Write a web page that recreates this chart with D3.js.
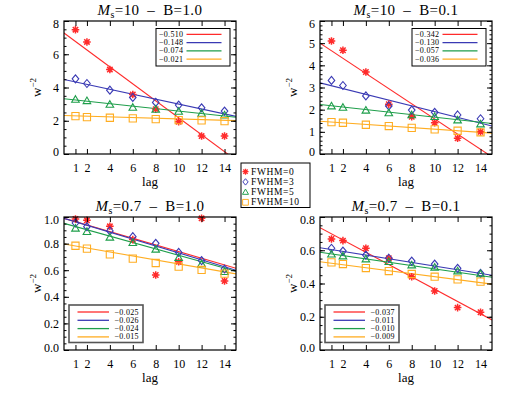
<!DOCTYPE html>
<html>
<head>
<meta charset="utf-8">
<script src="https://cdn.jsdelivr.net/npm/d3@7"></script>
<style>
body { margin: 0; background: #fff; }
text { font-family: 'Liberation Serif', 'Times New Roman', serif; fill: #000; }
</style>
</head>
<body>
<script>
// #region DATA
const lags = [1, 2, 4, 6, 8, 10, 12, 14];
const xTicks = [1, 2, 4, 6, 8, 10, 12, 14];
const seriesNames = ["FWHM=0", "FWHM=3", "FWHM=5", "FWHM=10"];
const seriesColors = ["#ff2b2b", "#3a3ab4", "#1e9e4a", "#ffad22"];
const panelMach = ["10", "10", "0.7", "0.7"];
const panelB = ["1.0", "0.1", "1.0", "0.1"];

// w^-2 at each lag, one row per FWHM
const valsM10B10 = [
    [7.48, 6.74, 5.08, 3.58, 2.70, 1.94, 1.08, 1.08],
    [4.52, 4.24, 3.84, 3.40, 3.10, 2.94, 2.78, 2.58],
    [3.28, 3.20, 2.98, 2.80, 2.68, 2.56, 2.44, 2.34],
    [2.28, 2.22, 2.18, 2.14, 2.10, 2.04, 2.02, 1.98]
];
const valsM10B01 = [
    [5.10, 4.68, 3.70, 2.25, 1.68, 1.41, 0.71, 1.00],
    [3.32, 3.09, 2.62, 2.17, 1.98, 1.88, 1.76, 1.59],
    [2.16, 2.10, 1.97, 1.85, 1.76, 1.68, 1.53, 1.35],
    [1.44, 1.41, 1.32, 1.26, 1.18, 1.11, 1.05, 0.98]
];
const valsM07B10 = [
    [0.985, 0.975, 0.93, 0.83, 0.564, 0.664, 0.99, 0.519],
    [0.955, 0.927, 0.895, 0.852, 0.802, 0.734, 0.672, 0.609],
    [0.915, 0.890, 0.847, 0.807, 0.757, 0.694, 0.647, 0.589],
    [0.784, 0.762, 0.719, 0.687, 0.654, 0.627, 0.602, 0.574]
];
const valsM07B01 = [
    [0.668, 0.658, 0.612, 0.552, 0.441, 0.355, 0.255, 0.227],
    [0.612, 0.595, 0.571, 0.552, 0.535, 0.517, 0.491, 0.461],
    [0.576, 0.565, 0.547, 0.531, 0.511, 0.497, 0.475, 0.457],
    [0.527, 0.517, 0.493, 0.475, 0.457, 0.441, 0.425, 0.411]
];

// linear fits: slope (legend) and intercept at lag 0
const slopesM10B10 = [-0.510, -0.148, -0.074, -0.021];
const slopesM10B01 = [-0.342, -0.130, -0.057, -0.036];
const slopesM07B10 = [-0.025, -0.026, -0.024, -0.015];
const slopesM07B01 = [-0.037, -0.011, -0.010, -0.009];
const interceptsM10B10 = [7.28, 4.48, 3.32, 2.32];
const interceptsM10B01 = [5.00, 3.21, 2.23, 1.48];
const interceptsM07B10 = [0.99, 0.99, 0.952, 0.797];
const interceptsM07B01 = [0.736, 0.615, 0.588, 0.531];

const yDomains = [[0, 8], [0, 6], [0, 1], [0, 0.8]];
const yMajorTicks = [
    [0, 2, 4, 6, 8],
    [0, 1, 2, 3, 4, 5, 6],
    [0, 0.2, 0.4, 0.6, 0.8, 1.0],
    [0, 0.2, 0.4, 0.6, 0.8]
];
const yMinorSteps = [0.5, 0.2, 0.05, 0.05];
// #endregion

// #region SETUP
const panels = [
    {vals: valsM10B10, slopes: slopesM10B10, icpt: interceptsM10B10, left: 64, top: 21, fmt: d3.format("d"), leg: "top"},
    {vals: valsM10B01, slopes: slopesM10B01, icpt: interceptsM10B01, left: 320, top: 21, fmt: d3.format("d"), leg: "top"},
    {vals: valsM07B10, slopes: slopesM07B10, icpt: interceptsM07B10, left: 64, top: 217, fmt: d3.format(".1f"), leg: "bottom"},
    {vals: valsM07B01, slopes: slopesM07B01, icpt: interceptsM07B01, left: 320, top: 217, fmt: d3.format(".1f"), leg: "bottom"}
];
const pw = 172, ph = 133;

var svg = d3.select("body")
    .append("svg")
    .attr("width", 512)
    .attr("height", 393);

// marker shapes, one per FWHM
var symbolPath = function(i) {
    if (i == 0) {
        var r = 3.8, q = 2.7;
        return `M${-r},0L${r},0M0,${-r}L0,${r}M${-q},${-q}L${q},${q}M${-q},${q}L${q},${-q}`;
    } else if (i == 1) {
        return "M0,-4L3.3,0L0,4L-3.3,0Z";
    } else if (i == 2) {
        return "M0,-3.8L3.8,2.8L-3.8,2.8Z";
    }
    return "M-3.6,-3.6h7.2v7.2h-7.2Z";
};
// #endregion

panels.forEach(function(p, k) {
    var g = svg.append("g").attr("transform", `translate(${p.left},${p.top})`);

    var x = d3.scaleLinear().domain([0, 15]).range([0, pw]);
    var y = d3.scaleLinear().domain(yDomains[k]).range([ph, 0]);
    var minor = d3.range(yDomains[k][0], yDomains[k][1] + 1e-9, yMinorSteps[k]);

    g.append("clipPath").attr("id", "clip" + k)
        .append("rect").attr("width", pw).attr("height", ph);

    // fit lines
    var plot = g.append("g").attr("clip-path", `url(#clip${k})`);
    plot.selectAll("line.fit")
        .data(d3.range(4))
        .enter()
        .append("line")
            .attr("x1", x(0))
            .attr("x2", x(15))
            .attr("y1", i => y(p.icpt[i]))
            .attr("y2", i => y(p.icpt[i] + p.slopes[i] * 15))
            .attr("stroke", i => seriesColors[i])
            .attr("stroke-width", 1.1);

    // points
    d3.range(4).forEach(function(i) {
        g.append("g")
            .selectAll("path")
            .data(p.vals[i])
            .enter()
            .append("path")
                .attr("transform", (v, j) => `translate(${x(lags[j])},${y(v)})`)
                .attr("d", symbolPath(i))
                .attr("fill", "none")
                .attr("stroke", seriesColors[i])
                .attr("stroke-width", i == 0 ? 1.5 : 1.1);
    });

    // axes
    g.append("g").attr("transform", `translate(0,${ph})`)
        .call(d3.axisBottom(x).tickValues(xTicks).tickSize(-5).tickPadding(9).tickFormat(d3.format("d")));
    g.append("g").call(d3.axisTop(x).tickValues(xTicks).tickSize(-5).tickFormat(""));
    var axL = g.append("g")
        .call(d3.axisLeft(y).tickValues(yMajorTicks[k]).tickSize(-5).tickPadding(5).tickFormat(p.fmt));
    g.append("g").call(d3.axisLeft(y).tickValues(minor).tickSize(-2.5).tickFormat(""));
    g.append("g").attr("transform", `translate(${pw},0)`)
        .call(d3.axisRight(y).tickValues(yMajorTicks[k]).tickSize(-5).tickFormat(""));
    g.append("g").attr("transform", `translate(${pw},0)`)
        .call(d3.axisRight(y).tickValues(minor).tickSize(-2.5).tickFormat(""));

    g.selectAll(".domain").remove();
    g.selectAll(".tick line").attr("stroke", "#000");
    g.selectAll(".tick text")
        .style("font-family", "'Liberation Serif', serif")
        .style("font-size", "12px");
    // end labels sit a bit inside the frame
    axL.selectAll(".tick text")
        .attr("dy", v => v == yDomains[k][1] ? "0.55em" : (v == yDomains[k][0] ? "0.1em" : "0.32em"));

    g.append("rect")
        .attr("width", pw).attr("height", ph)
        .attr("fill", "none").attr("stroke", "#000").attr("stroke-width", 1.2);

    // title
    var title = g.append("text")
        .attr("x", pw / 2)
        .attr("y", -6)
        .attr("text-anchor", "middle")
        .style("font-size", "15px")
        .style("letter-spacing", "0.4px");
    title.append("tspan").text("M").style("font-style", "italic");
    title.append("tspan").text("s").attr("dy", 3).style("font-size", "10px");
    title.append("tspan").text("=" + panelMach[k] + "\u2002\u2013\u2002B=" + panelB[k]).attr("dy", -3);

    // axis titles
    g.append("text")
        .attr("x", pw / 2)
        .attr("y", ph + 32)
        .attr("text-anchor", "middle")
        .style("font-size", "13px")
        .text("lag");

    var yl = g.append("text")
        .attr("transform", `translate(-23,${ph / 2}) rotate(-90)`)
        .attr("text-anchor", "middle")
        .style("font-size", "13px");
    yl.append("tspan").text("w");
    yl.append("tspan").text("\u22122").attr("dy", -5).style("font-size", "9px");

    // slope legend
    var lg;
    if (p.leg == "top") {
        lg = {bx: 92, by: 7.5, rows: 13.3, tx: 95, l1: 122.5, l2: 157.5, stroke: "#000", sw: 1};
    } else {
        lg = {bx: 5, by: 88, rows: 95, tx: 50.5, l1: 13.5, l2: 45, stroke: "#555", sw: 1.6};
    }
    g.append("rect")
        .attr("x", lg.bx).attr("y", lg.by)
        .attr("width", 74).attr("height", 37.5)
        .attr("fill", "#fff").attr("stroke", lg.stroke).attr("stroke-width", lg.sw);
    d3.range(4).forEach(function(i) {
        var ry = lg.rows + i * 8.3;
        g.append("line")
            .attr("x1", lg.l1).attr("x2", lg.l2)
            .attr("y1", ry).attr("y2", ry)
            .attr("stroke", seriesColors[i])
            .attr("stroke-width", 1.3);
        g.append("text")
            .attr("x", lg.tx).attr("y", ry)
            .attr("dominant-baseline", "central")
            .style("font-size", "8px")
            .style("letter-spacing", "0.3px")
            .text(d3.format(".3f")(p.slopes[i]).replace("-", "\u2212"));
    });
});

// shared legend for the marker types
var key = svg.append("g").attr("transform", "translate(241,163)");
key.append("rect")
    .attr("width", 69).attr("height", 44.5)
    .attr("fill", "#fff").attr("stroke", "#000").attr("stroke-width", 1);
seriesNames.forEach(function(name, i) {
    var ry = 8.7 + i * 10.2;
    key.append("path")
        .attr("transform", `translate(4.5,${ry}) scale(0.8)`)
        .attr("d", symbolPath(i))
        .attr("fill", "none")
        .attr("stroke", seriesColors[i])
        .attr("stroke-width", i == 0 ? 1.6 : 1.2);
    key.append("text")
        .attr("x", 10).attr("y", ry)
        .attr("dominant-baseline", "central")
        .style("font-size", "9.5px")
        .style("letter-spacing", "0.6px")
        .text(name);
});
</script>
</body>
</html>
